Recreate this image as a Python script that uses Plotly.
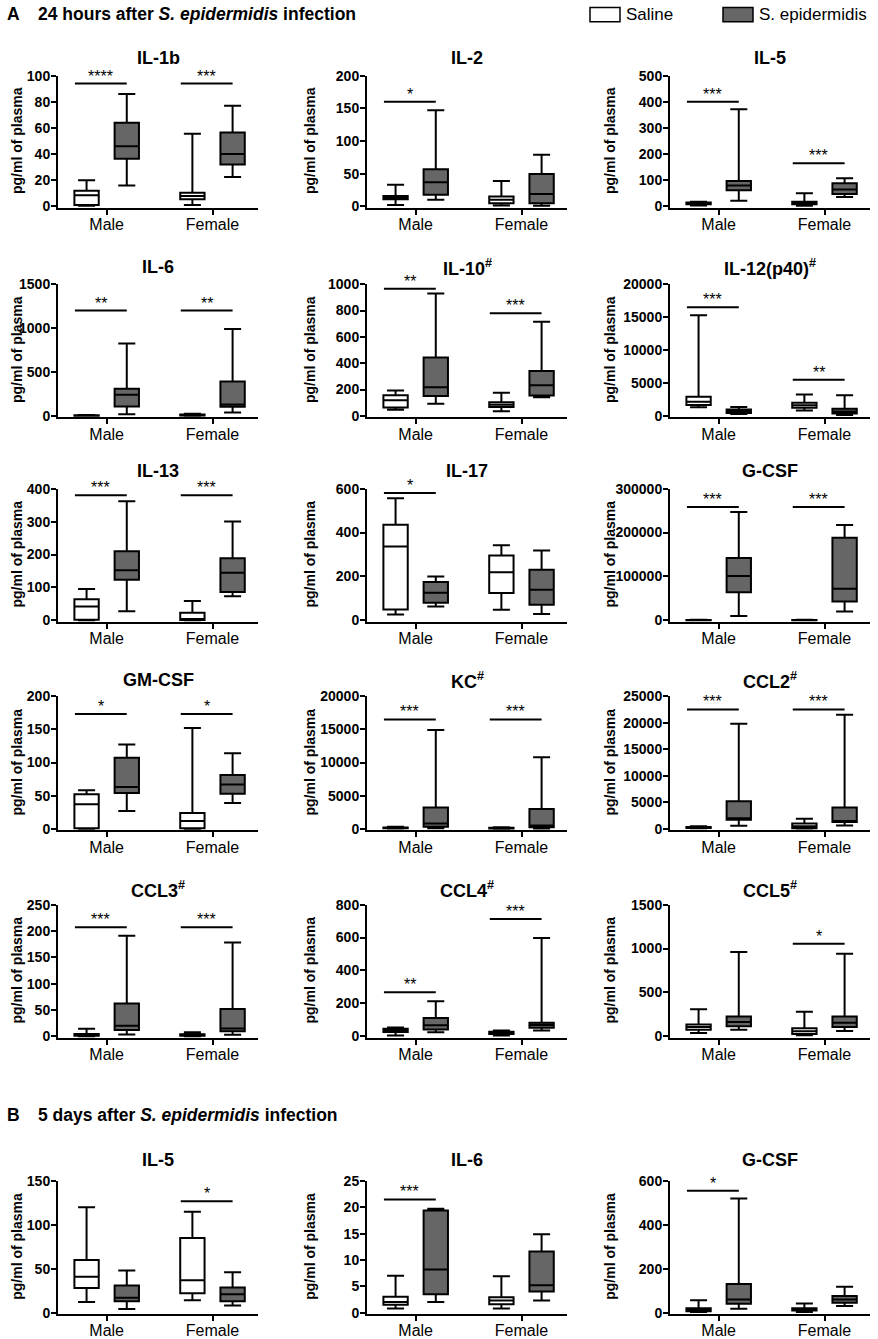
import plotly.graph_objects as go

W, H = 878, 1339
FONT = "Liberation Sans, Arial, sans-serif"

# ---------------- data ----------------
groups = ["Male", "Female"]
series_names = ["Saline", "S. epidermidis"]

titles = ["IL-1b", "IL-2", "IL-5",
          "IL-6", "IL-10<sup>#</sup>", "IL-12(p40)<sup>#</sup>",
          "IL-13", "IL-17", "G-CSF",
          "GM-CSF", "KC<sup>#</sup>", "CCL2<sup>#</sup>",
          "CCL3<sup>#</sup>", "CCL4<sup>#</sup>", "CCL5<sup>#</sup>",
          "IL-5", "IL-6", "G-CSF"]
y_max = [100, 200, 500, 1500, 1000, 20000, 400, 600, 300000,
         200, 20000, 25000, 250, 800, 1500, 150, 25, 600]
y_step = [20, 50, 100, 500, 200, 5000, 100, 200, 100000,
          50, 5000, 5000, 50, 200, 500, 50, 5, 200]

# box stats per group: [min, q1, median, q3, max] for Male, Female
IL1B_SAL = [[0.5, 1, 8.5, 12, 20], [1, 5.5, 8, 10.5, 55.5]]
IL1B_SEP = [[16, 36.5, 46, 64, 86], [22.5, 32, 40, 56.5, 77]]
IL2_SAL = [[2, 11, 13, 16, 33], [1.5, 5, 10, 15, 39]]
IL2_SEP = [[10, 18, 37, 57, 147], [1, 5, 19, 49.5, 79]]
IL5_SAL = [[3, 8, 12, 15, 18], [2, 8, 12, 18, 50]]
IL5_SEP = [[22, 62, 80, 97, 372], [36, 47, 65, 89, 108]]
IL6_SAL = [[1, 2, 4, 6, 10], [2, 5, 10, 15, 25]]
IL6_SEP = [[18, 106, 240, 308, 825], [38, 105, 130, 392, 990]]
IL10_SAL = [[46, 64, 118, 156, 192], [35, 68, 85, 103, 175]]
IL10_SEP = [[92, 150, 218, 444, 930], [141, 154, 233, 340, 715]]
IL12_SAL = [[1300, 1650, 2150, 2900, 15300], [800, 1250, 1600, 2000, 3250]]
IL12_SEP = [[300, 450, 700, 950, 1350], [150, 350, 650, 1100, 3150]]
IL13_SAL = [[0, 2, 42, 64, 95], [0, 1, 3, 23, 59]]
IL13_SEP = [[28, 123, 152, 210, 362], [73, 86, 145, 189, 300]]
IL17_SAL = [[27, 50, 337, 436, 557], [48, 125, 219, 296, 342]]
IL17_SEP = [[63, 80, 126, 175, 200], [29, 71, 140, 231, 318]]
GCSF_SAL = [[200, 400, 600, 900, 1500], [200, 400, 600, 900, 1500]]
GCSF_SEP = [[10000, 64000, 101000, 142000, 247000], [20000, 43000, 72000, 188000, 217000]]
GMCSF_SAL = [[0, 1, 37, 52, 58], [0, 1, 12, 24, 152]]
GMCSF_SEP = [[27, 54, 63, 107, 127], [39, 53, 67, 81, 114]]
KC_SAL = [[50, 100, 150, 200, 300], [30, 60, 100, 150, 250]]
KC_SEP = [[100, 300, 800, 3200, 14900], [50, 250, 500, 3000, 10800]]
CCL2_SAL = [[100, 150, 250, 350, 500], [50, 100, 500, 1000, 1900]]
CCL2_SEP = [[600, 1700, 2000, 5200, 19800], [650, 1300, 1500, 4000, 21500]]
CCL3_SAL = [[0, 1, 2.5, 4.5, 14.5], [0, 1, 2, 4, 7.5]]
CCL3_SEP = [[3.5, 12, 20, 62.5, 191], [3, 9.5, 15, 52, 178]]
CCL4_SAL = [[5, 26, 36, 46, 54], [5, 14, 22, 28, 36]]
CCL4_SEP = [[25, 42, 67, 111, 213], [36, 52, 69, 83, 598]]
CCL5_SAL = [[38, 76, 106, 136, 307], [11, 26, 57, 91, 280]]
CCL5_SEP = [[76, 114, 163, 227, 962], [60, 106, 155, 227, 940]]
B_IL5_SAL = [[12, 28, 41, 60, 120], [14, 22, 37, 85, 115]]
B_IL5_SEP = [[4, 13, 17, 31, 48], [8, 13, 21, 28.5, 46]]
B_IL6_SAL = [[0.8, 1.5, 2, 3, 7], [0.8, 1.6, 2.3, 2.9, 6.9]]
B_IL6_SEP = [[2, 3.5, 8.2, 19.4, 19.7], [2.3, 4, 5.2, 11.6, 14.9]]
B_GCSF_SAL = [[3, 6, 14, 20, 56], [3, 10, 15, 20, 42]]
B_GCSF_SEP = [[18, 40, 60, 130, 520], [30, 45, 60, 76, 118]]

# significance: (group index, y value, label)
SIGS = [
    [(0, 94, "****"), (1, 94, "***")],
    [(0, 160, "*")],
    [(0, 400, "***"), (1, 165, "***")],
    [(0, 1200, "**"), (1, 1200, "**")],
    [(0, 965, "**"), (1, 780, "***")],
    [(0, 16500, "***"), (1, 5500, "**")],
    [(0, 380, "***"), (1, 380, "***")],
    [(0, 580, "*")],
    [(0, 258000, "***"), (1, 258000, "***")],
    [(0, 173, "*"), (1, 173, "*")],
    [(0, 16500, "***"), (1, 16500, "***")],
    [(0, 22500, "***"), (1, 22500, "***")],
    [(0, 207, "***"), (1, 207, "***")],
    [(0, 268, "**"), (1, 713, "***")],
    [(1, 1055, "*")],
    [(1, 127, "*")],
    [(0, 21.5, "***")],
    [(0, 555, "*")],
]

saline_all = [IL1B_SAL, IL2_SAL, IL5_SAL, IL6_SAL, IL10_SAL, IL12_SAL, IL13_SAL,
              IL17_SAL, GCSF_SAL, GMCSF_SAL, KC_SAL, CCL2_SAL, CCL3_SAL, CCL4_SAL,
              CCL5_SAL, B_IL5_SAL, B_IL6_SAL, B_GCSF_SAL]
sepi_all = [IL1B_SEP, IL2_SEP, IL5_SEP, IL6_SEP, IL10_SEP, IL12_SEP, IL13_SEP,
            IL17_SEP, GCSF_SEP, GMCSF_SEP, KC_SEP, CCL2_SEP, CCL3_SEP, CCL4_SEP,
            CCL5_SEP, B_IL5_SEP, B_IL6_SEP, B_GCSF_SEP]

# ---------------- layout geometry (target pixels in the photo) ----------------
col_left = [58, 367, 670]
col_w = 200
row_top = [76, 285, 490, 698, 907, 1184]
row_zero = [207, 417, 622, 831, 1039, 1316]
title_y = [58, 268, 472, 682, 892, 1163]
ylabel_x = [17, 310, 610]
XR = [-0.46, 1.43]
PADF = 0.012
OFF = 0.19
BOXW = 0.23

# the photographed page comes out slightly squeezed vertically;
# map target photo pixels to figure pixels
VS = (H + 20) / H
VOFF = 76 * VS - (76 * (H + 16) / H - 8)


def px(x):
    return x / W


def fy(y):
    return y * VS - VOFF


def py(y):
    return 1 - fy(y) / H


fig = go.Figure()
layout = dict(
    width=W, height=H, margin=dict(l=0, r=0, t=0, b=0),
    plot_bgcolor="white", paper_bgcolor="white", showlegend=False,
    font=dict(family=FONT, color="black"),
)
annotations = []
shapes = []

for i in range(18):
    r, c = divmod(i, 3)
    ax = "" if i == 0 else str(i + 1)
    xa, ya = "x" + ax, "y" + ax
    for stats, off, fill in ((saline_all[i], -OFF, "white"), (sepi_all[i], OFF, "#666666")):
        fig.add_trace(go.Box(
            x=[g + off for g in range(len(groups))],
            lowerfence=[s[0] for s in stats],
            q1=[s[1] for s in stats],
            median=[s[2] for s in stats],
            q3=[s[3] for s in stats],
            upperfence=[s[4] for s in stats],
            orientation="v", width=BOXW, whiskerwidth=0.7,
            fillcolor=fill, line=dict(color="black", width=2),
            boxpoints=False, xaxis=xa, yaxis=ya, hoverinfo="skip",
        ))
    ymax = y_max[i]
    lo = -PADF * ymax
    top, zero = row_top[r], row_zero[r]
    bottom = zero + PADF * (zero - top)
    tv = list(range(0, ymax + 1, y_step[i]))
    layout["xaxis" + ax] = dict(
        domain=[px(col_left[c]), px(col_left[c] + col_w)], range=XR, anchor=ya,
        tickvals=list(range(len(groups))), ticktext=groups,
        showline=True, linecolor="black", linewidth=2, ticks="outside",
        ticklen=5, tickwidth=2, tickcolor="black", showgrid=False, zeroline=False,
        tickfont=dict(family=FONT, size=16, color="black"), fixedrange=True,
        ticklabelstandoff=-4,
    )
    layout["yaxis" + ax] = dict(
        domain=[py(bottom), py(top)], range=[lo, ymax], anchor=xa,
        tickvals=tv, ticktext=[str(v) for v in tv],
        showline=True, linecolor="black", linewidth=2, ticks="outside",
        ticklen=5, tickwidth=2, tickcolor="black", showgrid=False, zeroline=False,
        tickfont=dict(family=FONT, size=14, color="black", weight="bold"),
        fixedrange=True, ticklabelstandoff=-2,
    )
    # title
    annotations.append(dict(
        text="<b>" + titles[i] + "</b>", xref="paper", yref="paper",
        x=px(col_left[c] + col_w / 2), y=py(title_y[r]), xanchor="center",
        yanchor="middle", showarrow=False, font=dict(family=FONT, size=18, color="black"),
    ))
    # y label
    annotations.append(dict(
        text="<b>pg/ml of plasma</b>", xref="paper", yref="paper",
        x=px(ylabel_x[c]), y=py((top + zero) / 2), xanchor="center", yanchor="middle",
        textangle=-90, showarrow=False, font=dict(family=FONT, size=14, color="black"),
    ))
    # significance
    for g, yv, lab in SIGS[i]:
        shapes.append(dict(type="line", xref=xa, yref=ya, x0=g - 0.30, x1=g + OFF,
                           y0=yv, y1=yv, line=dict(color="black", width=2)))
        annotations.append(dict(
            text=lab, xref=xa, yref=ya, x=g - 0.055, y=yv, xanchor="center",
            yanchor="bottom", yshift=-3, showarrow=False,
            font=dict(family=FONT, size=16, color="black"),
        ))

# section headers
for letter, txt, yy in (("A", "24 hours after <i>S. epidermidis</i> infection", 14),
                        ("B", "5 days after <i>S. epidermidis</i> infection", 1118)):
    annotations.append(dict(text="<b>" + letter + "</b>", xref="paper", yref="paper",
                            x=px(5), y=py(yy), xanchor="left", yanchor="middle",
                            showarrow=False, font=dict(family=FONT, size=17.5, color="black")))
    annotations.append(dict(text="<b>" + txt + "</b>", xref="paper", yref="paper",
                            x=px(36), y=py(yy), xanchor="left", yanchor="middle",
                            showarrow=False, font=dict(family=FONT, size=17.5, color="black")))

# legend
for name, fill, bx in ((series_names[0], "white", 590), (series_names[1], "#666666", 723)):
    shapes.append(dict(type="rect", xref="paper", yref="paper",
                       x0=px(bx), x1=px(bx + 30), y0=py(22), y1=py(7.5),
                       fillcolor=fill, line=dict(color="black", width=1.5)))
    annotations.append(dict(text=name, xref="paper", yref="paper", x=px(bx + 34),
                            y=py(15), xanchor="left", yanchor="middle", showarrow=False,
                            font=dict(family=FONT, size=17, color="black")))

layout["annotations"] = annotations
layout["shapes"] = shapes
fig.update_layout(**layout)

RESET = ("document.documentElement.style.margin='0';"
         "document.body.style.margin='0';document.body.style.padding='0';"
         "document.body.style.overflow='hidden';")
fig.write_html(
    "out.html",
    config={"displayModeBar": False, "staticPlot": True},
    post_script="});" + RESET + "Promise.resolve().then(function(){" + RESET,
)
